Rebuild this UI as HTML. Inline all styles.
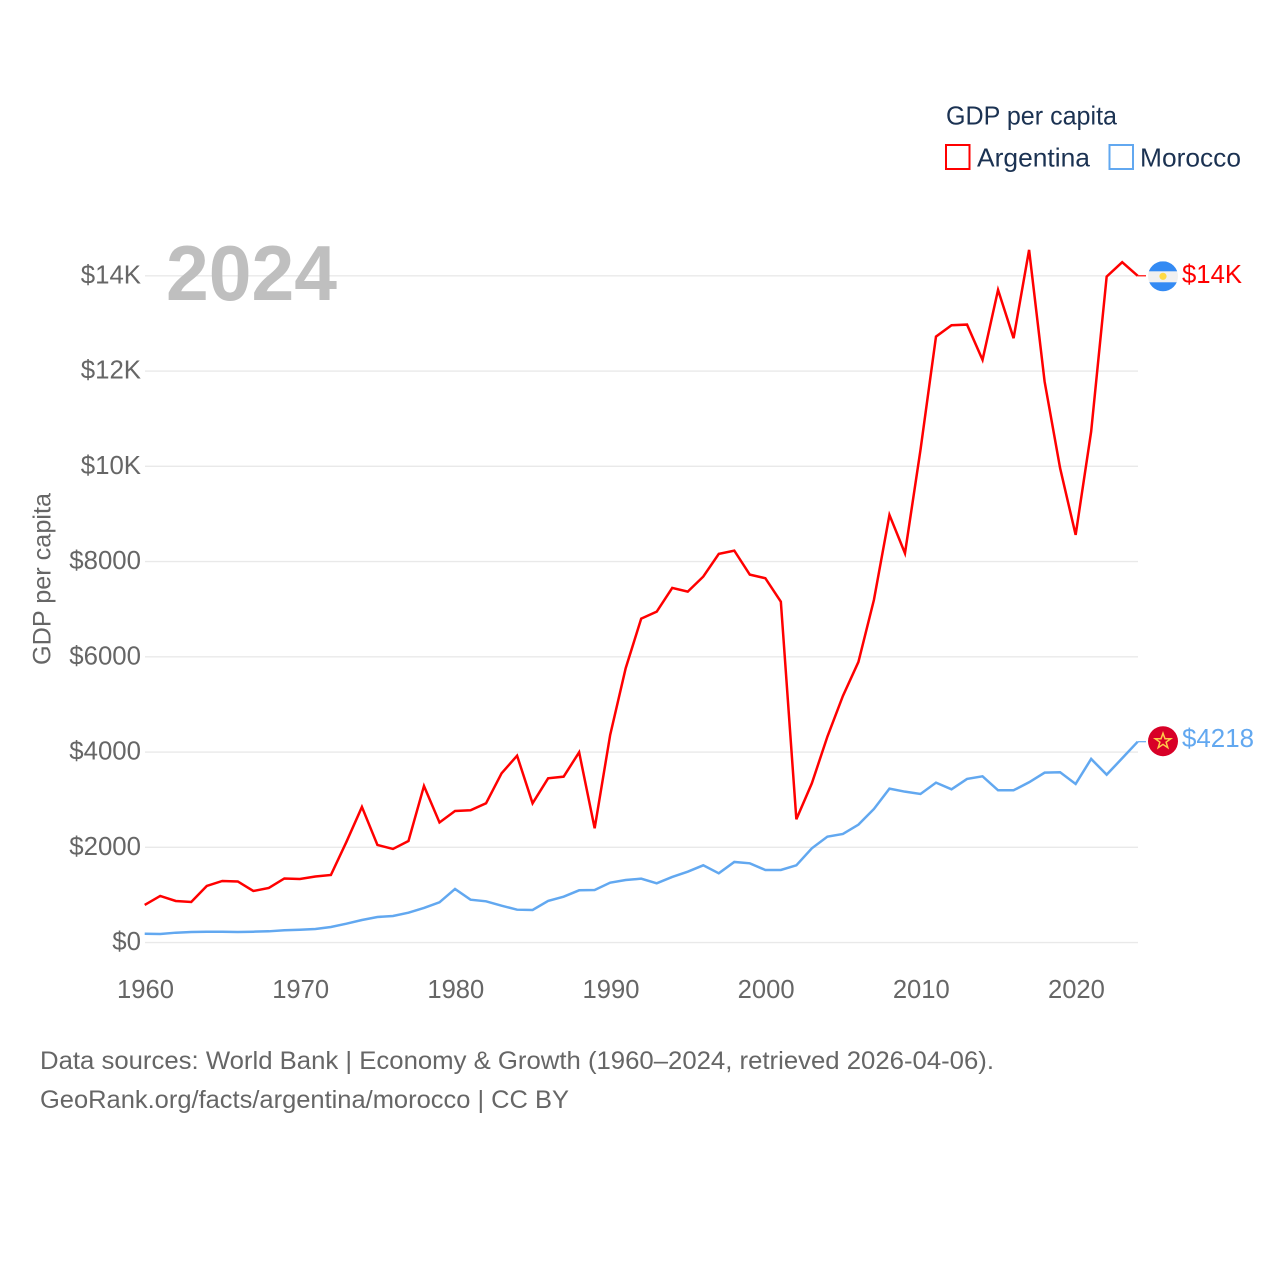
<!DOCTYPE html>
<html lang="en">
<head>
<meta charset="utf-8">
<title>GDP per capita: Argentina and Morocco</title>
<style>
html,body{margin:0;padding:0;background:#fff;}
svg{display:block;font-family:"Liberation Sans",sans-serif;}
</style>
</head>
<body>
<svg id="chart" width="1280" height="1280" viewBox="0 0 1280 1280" xmlns="http://www.w3.org/2000/svg">
  <rect width="1280" height="1280" fill="#fff"/>
  <g id="grid"></g>
  <g id="ytick-labels"></g>
  <g id="xtick-labels"></g>
  <text x="166" y="300" font-size="78" font-weight="bold" fill="#bfbfbf" textLength="171" lengthAdjust="spacingAndGlyphs">2024</text>
  <text transform="translate(50.5 665) rotate(-90)" font-size="25" fill="#666" textLength="172" lengthAdjust="spacingAndGlyphs">GDP per capita</text>
  <g id="series"></g>

  <g id="flag-ar">
    <clipPath id="clip-ar"><circle cx="0" cy="0" r="15"/></clipPath>
    <g clip-path="url(#clip-ar)">
      <rect x="-15" y="-15" width="30" height="30" fill="#f0f0f0"/>
      <rect x="-15" y="-15" width="30" height="10" fill="#338af3"/>
      <rect x="-15" y="6" width="30" height="10" fill="#338af3"/>
    </g>
    <circle cx="0" cy="0" r="3.6" fill="#ffda44"/>
  </g>
  <g id="flag-ma">
    <circle cx="0" cy="0" r="15" fill="#d80027"/>
    <polygon points="0,-8 2,-2.5 7.8,-2.5 3.1,1 4.8,6.5 0,3.2 -4.8,6.5 -3.1,1 -7.8,-2.5 -2,-2.5" fill="none" stroke="#ffc94a" stroke-width="1.5"/>
  </g>
  <text id="end-ar" x="1182" font-size="26" fill="#ff0000" textLength="60" lengthAdjust="spacingAndGlyphs"></text>
  <text id="end-ma" x="1182" font-size="26" fill="#62a8f0" textLength="72" lengthAdjust="spacingAndGlyphs"></text>

  <g>
    <text x="946" y="124.5" font-size="26" fill="#1b3252" textLength="171" lengthAdjust="spacingAndGlyphs">GDP per capita</text>
    <g>
      <rect x="946" y="145" width="23.5" height="24" fill="#fff" stroke="#ff0000" stroke-width="2"/>
      <text x="977" y="166.5" font-size="26" fill="#1b3252" textLength="113" lengthAdjust="spacingAndGlyphs">Argentina</text>
    </g>
    <g>
      <rect x="1109.5" y="145" width="23.5" height="24" fill="#fff" stroke="#62a8f0" stroke-width="2"/>
      <text x="1140" y="166.5" font-size="26" fill="#1b3252" textLength="101" lengthAdjust="spacingAndGlyphs">Morocco</text>
    </g>
  </g>

  <text x="40" y="1069" font-size="25" fill="#666" textLength="954" lengthAdjust="spacingAndGlyphs">Data sources: World Bank | Economy &amp; Growth (1960–2024, retrieved 2026-04-06).</text>
  <a><text x="40" y="1108" font-size="25" fill="#666" textLength="529" lengthAdjust="spacingAndGlyphs">GeoRank.org/facts/argentina/morocco | CC BY</text></a>
</svg>

<script>
const startYear = 1960;
const endYear = 2024;
const argentinaValues = [790,979,874,853,1189,1294,1283,1084,1147,1346,1336,1388,1420,2113,2848,2050,1966,2134,3289,2522,2764,2778,2925,3555,3925,2925,3450,3484,3996,2400,4360,5760,6802,6949,7447,7369,7684,8161,8230,7726,7650,7159,2589,3345,4324,5179,5893,7195,8980,8175,10345,12724,12963,12976,12235,13705,12690,14545,11779,9960,8560,10729,13984,14286,14000];
const moroccoValues = [187,181,208,223,229,229,223,229,237,258,271,286,328,397,475,538,559,628,727,846,1126,901,867,775,691,685,874,964,1098,1105,1258,1315,1342,1245,1378,1489,1623,1455,1693,1665,1525,1525,1623,1980,2224,2281,2476,2806,3232,3169,3121,3358,3219,3436,3492,3198,3198,3366,3568,3576,3331,3856,3526,3870,4218];
const yTickValues = [0,2000,4000,6000,8000,10000,12000,14000];
const yTickLabels = ["$0","$2000","$4000","$6000","$8000","$10K","$12K","$14K"];
const xTickYears = [1960,1970,1980,1990,2000,2010,2020];

const NS = "http://www.w3.org/2000/svg";
const xScale = year => 144.7 + (year - startYear) * (1137.7 - 144.7) / (endYear - startYear);
const yScale = value => 942.6 - value * 666.8 / 14000;
const formatValue = v => v >= 10000 ? "$" + Math.round(v / 1000) + "K" : "$" + Math.round(v);

const gridGroup = document.getElementById("grid");
const yLabelGroup = document.getElementById("ytick-labels");
const xLabelGroup = document.getElementById("xtick-labels");
const seriesGroup = document.getElementById("series");

yTickValues.forEach((value, i) => {
  const line = document.createElementNS(NS, "line");
  
  
  line.setAttribute("x1", 145);
  line.setAttribute("x2", 1138);
  line.setAttribute("y1", yScale(value));
  line.setAttribute("y2", yScale(value));
  line.setAttribute("stroke", "#e9e9e9");
  line.setAttribute("stroke-width", "1.4");
  gridGroup.appendChild(line);

  const label = document.createElementNS(NS, "text");
  
  
  label.setAttribute("x", 141);
  label.setAttribute("y", yScale(value) + 7.5);
  label.setAttribute("text-anchor", "end");
  label.setAttribute("font-size", "25.8");
  label.setAttribute("fill", "#666");
  label.textContent = yTickLabels[i];
  yLabelGroup.appendChild(label);
});

xTickYears.forEach(year => {
  const label = document.createElementNS(NS, "text");
  
  
  label.setAttribute("x", xScale(year) + 0.8);
  label.setAttribute("y", 998);
  label.setAttribute("text-anchor", "middle");
  label.setAttribute("font-size", "25.6");
  label.setAttribute("fill", "#666");
  label.textContent = year;
  xLabelGroup.appendChild(label);
});

function pointsFor(values) {
  return values.map((v, i) => xScale(startYear + i).toFixed(2) + "," + yScale(v).toFixed(2)).join(" ");
}

const argentinaLine = document.createElementNS(NS, "polyline");


argentinaLine.setAttribute("points", pointsFor(argentinaValues));
argentinaLine.setAttribute("fill", "none");
argentinaLine.setAttribute("stroke", "#ff0000");
argentinaLine.setAttribute("stroke-width", "2.5");
seriesGroup.appendChild(argentinaLine);

const moroccoLine = document.createElementNS(NS, "polyline");


moroccoLine.setAttribute("points", pointsFor(moroccoValues));
moroccoLine.setAttribute("fill", "none");
moroccoLine.setAttribute("stroke", "#62a8f0");
moroccoLine.setAttribute("stroke-width", "2.5");
seriesGroup.appendChild(moroccoLine);

const arLast = argentinaValues[argentinaValues.length - 1];
const maLast = moroccoValues[moroccoValues.length - 1];

const arConnector = document.createElementNS(NS, "line");


arConnector.setAttribute("x1", xScale(endYear));
arConnector.setAttribute("x2", 1146);
arConnector.setAttribute("y1", yScale(arLast));
arConnector.setAttribute("y2", yScale(arLast));
arConnector.setAttribute("stroke", "#ff0000");
arConnector.setAttribute("stroke-width", "1.2");
seriesGroup.appendChild(arConnector);

const maConnector = document.createElementNS(NS, "line");


maConnector.setAttribute("x1", xScale(endYear));
maConnector.setAttribute("x2", 1146);
maConnector.setAttribute("y1", yScale(maLast));
maConnector.setAttribute("y2", yScale(maLast));
maConnector.setAttribute("stroke", "#62a8f0");
maConnector.setAttribute("stroke-width", "1.2");
seriesGroup.appendChild(maConnector);

document.getElementById("flag-ar").setAttribute("transform", "translate(1163 " + (yScale(arLast) + 0.5) + ")");
document.getElementById("flag-ma").setAttribute("transform", "translate(1163 " + (yScale(maLast) - 0.5) + ")");

const arEnd = document.getElementById("end-ar");
arEnd.setAttribute("y", yScale(arLast) + 7);
arEnd.textContent = formatValue(arLast);
const maEnd = document.getElementById("end-ma");
maEnd.setAttribute("y", yScale(maLast) + 5.5);
maEnd.textContent = formatValue(maLast);
</script>
</body>
</html>
